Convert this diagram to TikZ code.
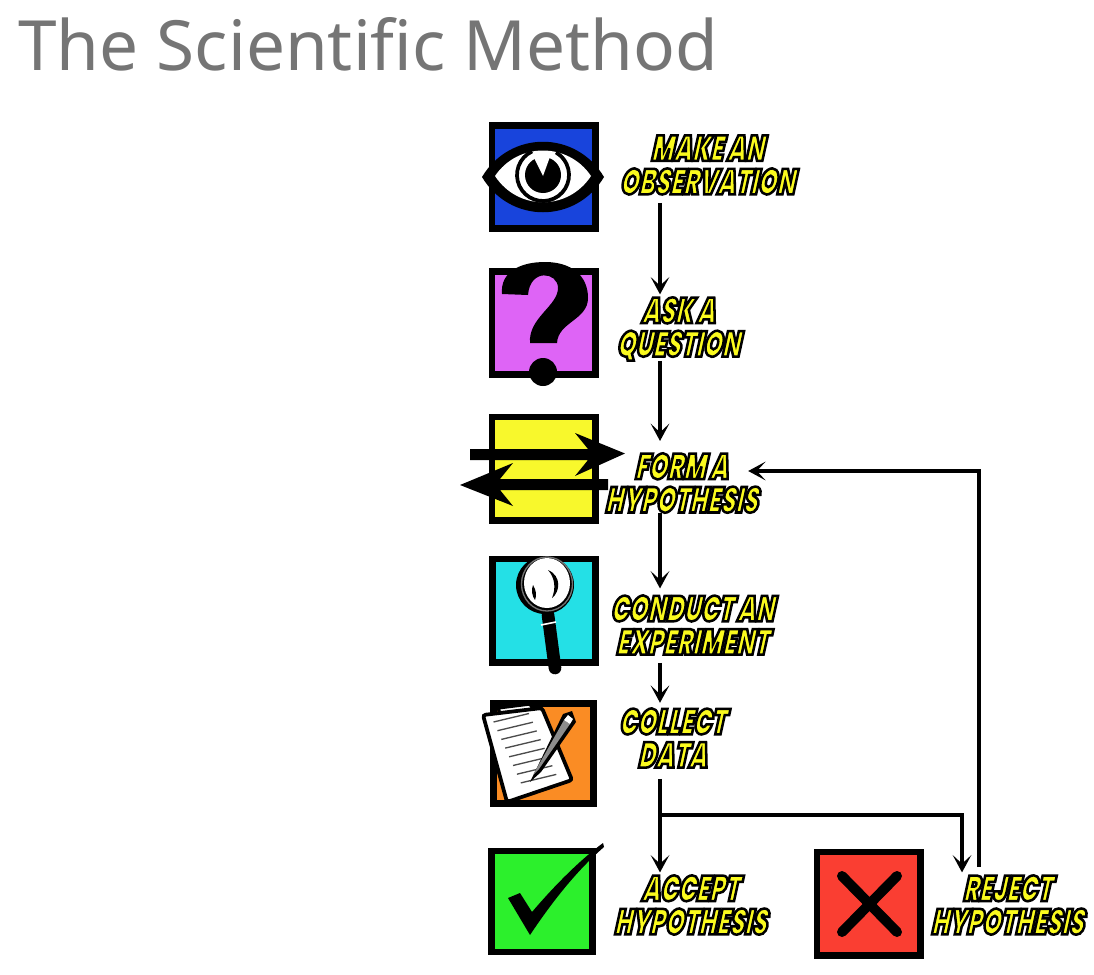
\documentclass[tikz,border=0pt]{standalone}
\usepackage{fontspec}
\usetikzlibrary{arrows.meta}
\setmainfont{Noto Sans}
\newfontfamily\comicfont[FakeSlant=0.22,FakeStretch=0.66,FakeBold=7]{Poppins Black}
\definecolor{titlegrey}{RGB}{117, 117, 117}
\definecolor{comicyellow}{RGB}{250, 250, 30}
\definecolor{eyeblue}{RGB}{24, 68, 220}
\definecolor{askpurple}{RGB}{222, 100, 246}
\definecolor{formyellow}{RGB}{248, 248, 44}
\definecolor{labcyan}{RGB}{36, 224, 230}
\definecolor{dataorange}{RGB}{250, 140, 36}
\definecolor{okgreen}{RGB}{44, 240, 44}
\definecolor{nored}{RGB}{250, 62, 50}
\newcommand{\inkstroke}{\special{pdf:code 0 0 0 RG}}

\begin{document}
\begin{tikzpicture}[
  x=0.75pt, y=-0.75pt,
  iconbox/.style={draw=black, line width=4.9pt, minimum size=77.6pt, inner sep=0pt, outer sep=0pt},
  comic/.style={text=comicyellow, font=\comicfont\fontsize{27}{25}\selectfont, align=center, inner sep=0pt},
  flow/.style={draw=black, line width=2.5pt, shorten >=2pt, -{Stealth[length=13pt, width=14pt, inset=6.5pt]}}
]
  \useasboundingbox (0, 0) rectangle (1094, 974);
  \node[text=titlegrey, font=\fontsize{52}{52}\selectfont, anchor=base west, inner sep=0pt] (title) at (18, 70) {The Scientific Method};

  % icon squares
  \node[iconbox, fill=eyeblue] (eyebox) at (543.5, 177) {};
  \node[iconbox, fill=askpurple] (askbox) at (543.5, 323) {};
  \node[iconbox, fill=formyellow] (formbox) at (543.5, 468.5) {};
  \node[iconbox, fill=labcyan] (labbox) at (544, 610.5) {};
  \node[iconbox, fill=dataorange, minimum size=75pt] (databox) at (543.5, 753.5) {};
  \node[iconbox, fill=okgreen, minimum size=76pt] (okbox) at (542, 901.5) {};
  \node[iconbox, fill=nored] (nobox) at (868.5, 903.5) {};

  % eye
  \fill[black] (482, 177) .. controls (510, 130) and (576, 130) .. (604, 177) .. controls (576, 224) and (510, 224) .. (482, 177) -- cycle;
  \fill[white] (495, 176) .. controls (518, 142) and (568, 142) .. (591, 176) .. controls (568, 211) and (518, 211) .. (495, 176) -- cycle;
  \draw[black, line width=2.8pt] (543, 175) ++(-115:26) arc[start angle=-115, end angle=-420, radius=26];
  \fill[black] (543, 175) circle[radius=18];
  \fill[white] (543, 176) -- (532, 154) -- (551, 154) -- cycle;

  % question mark
  \fill[black] (502, 294) .. controls (500, 272) and (520, 262) .. (545, 262) .. controls (572, 262) and (588, 276) .. (588, 298) .. controls (588, 320) and (558, 322) .. (557, 343) -- (530, 343) .. controls (528, 318) and (558, 306) .. (558, 288) .. controls (558, 272) and (530, 268) .. (528, 295) -- cycle;
  \fill[black] (543, 372) circle[radius=14];

  % crossing arrows
  \fill[black] (470, 449) -- (588, 449) -- (575, 433) -- (625, 453.5) -- (575, 476) -- (588, 460) -- (470, 460) -- cycle;
  \fill[black] (608, 479) -- (500, 479) -- (513, 463) -- (460, 485) -- (513, 506) -- (500, 490) -- (608, 490) -- cycle;

  % magnifier
  \draw[black, line width=9.5pt, line cap=round] (548, 615) -- (555, 668);
  \draw[white, line width=1.2pt] (541, 625) -- (556, 622);
  \fill[black] (545, 585) circle[radius=29];
  \fill[white] (547, 583) ellipse[x radius=23, y radius=25];
  \draw[black!55, line width=1pt] (547, 584) ellipse[x radius=25.5, y radius=27];
  \fill[black] (548, 570) .. controls (562, 576) and (560, 592) .. (552, 598) .. controls (556, 588) and (555, 578) .. (548, 570) -- cycle;
  \fill[black] (533, 585) .. controls (531, 590) and (532, 596) .. (535, 600) .. controls (537, 595) and (536, 590) .. (533, 585) -- cycle;

  % paper and pencil
  \draw[black, line width=2.4pt, fill=white] (498, 708) -- (530, 704) -- (550, 740) -- (510, 740) -- cycle;
  \draw[black, line width=2.8pt, fill=white, rounded corners=2pt] (483, 715) -- (542, 708) -- (572, 780) -- (507, 802) -- cycle;
  \foreach \k in {0, ..., 7} {
    \draw[black!70, line width=1pt] ({493.5 + \k * 3.9}, {722 + \k * 8.7}) -- ({529 + \k * 3.9}, {713.5 + \k * 8.7});
  }
  \fill[black] (530, 782) -- (563, 714) -- (572, 711) -- (576, 722) -- (541, 772) -- cycle;
  \fill[black!45] (533, 775) -- (564, 720) -- (570, 724) -- (539, 769) -- cycle;
  \fill[white] (564, 720) -- (568, 715) -- (573, 719) -- (570, 724) -- cycle;

  % tick and cross
  \fill[black] (508, 898) -- (520, 893) -- (532, 912) .. controls (555, 885) and (580, 860) .. (603, 843) -- (604, 847) .. controls (575, 872) and (550, 905) .. (530, 935) -- cycle;
  \draw[black, line width=7.5pt, line cap=round] (842, 876) -- (897, 932);
  \draw[black, line width=7.5pt, line cap=round] (897, 876) -- (842, 932);

  % labels
  \node[comic] (observe) at (707, 165) {\inkstroke MAKE AN\\OBSERVATION};
  \node[comic] (question) at (678, 329) {\inkstroke ASK A\\QUESTION};
  \node[comic] (hypothesis) at (681, 483) {\inkstroke FORM A\\HYPOTHESIS};
  \node[comic] (experiment) at (692, 625) {\inkstroke CONDUCT AN\\EXPERIMENT};
  \node[comic] (collect) at (672, 738) {\inkstroke COLLECT\\DATA};
  \node[comic] (accept) at (690, 905) {\inkstroke ACCEPT\\HYPOTHESIS};
  \node[comic] (reject) at (1007, 905) {\inkstroke REJECT\\HYPOTHESIS};

  % connectors
  \coordinate (spine) at (660, 815);
  \coordinate (rejectin) at (962, 815);
  \coordinate (returnx) at (979, 471);
  \draw[flow] (observe.south -| spine) ++(0, 8) -- (question.north -| spine);
  \draw[flow, shorten >=9pt] (question.south -| spine) -- (hypothesis.north -| spine);
  \draw[flow, shorten >=5pt] (hypothesis.south -| spine) -- (experiment.north -| spine);
  \draw[flow, shorten >=4pt] (experiment.south -| spine) ++(0, 8) -- (collect.north -| spine);
  \draw[flow] (collect.south -| spine) ++(0, 11) -- (accept.north -| spine);
  \draw[flow] (spine) -- (rejectin) -- (reject.north -| rejectin);
  \draw[flow, shorten >=-7pt] (reject.north -| returnx) ++(0, -8) -- (returnx) -- (hypothesis.east |- returnx);
\end{tikzpicture}
\end{document}
